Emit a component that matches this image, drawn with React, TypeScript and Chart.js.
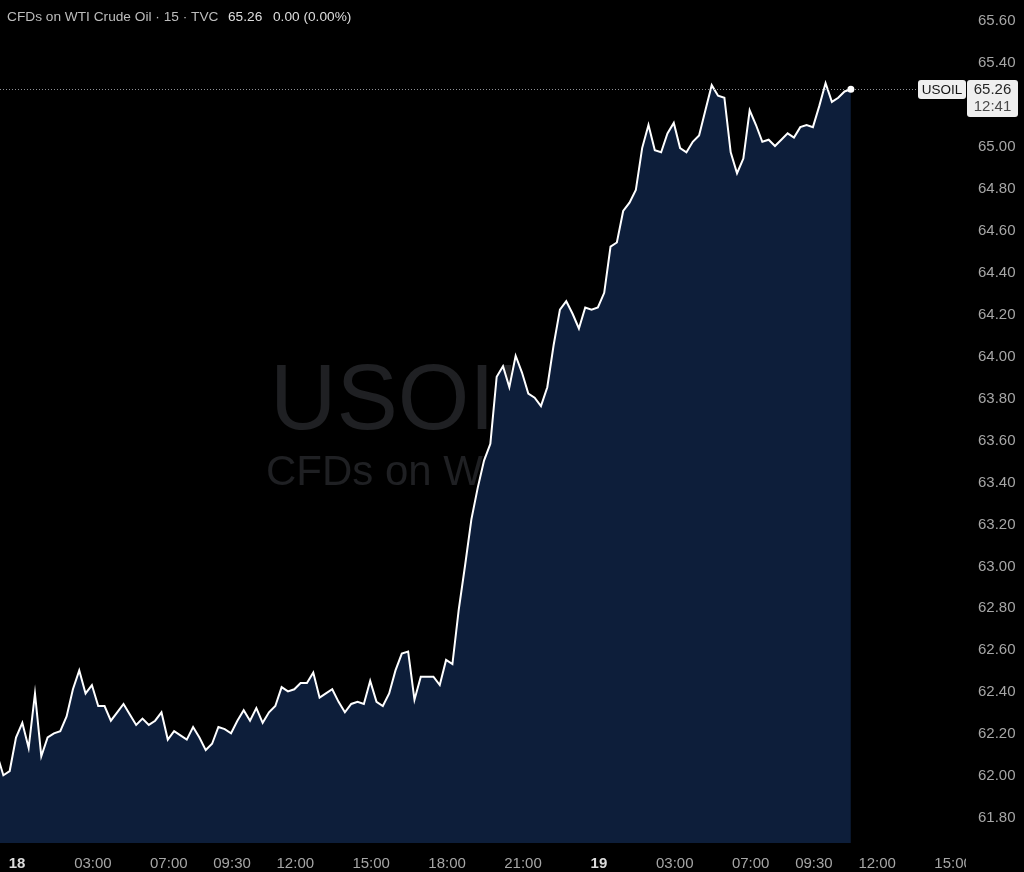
import React, { useEffect, useRef } from "react";
import { Chart, registerables } from "chart.js";

Chart.register(...registerables);

const SYMBOL = "USOIL";
const WATERMARK_SUB = "CFDs on WTI Crude Oil";
const TITLE = "CFDs on WTI Crude Oil · 15 · TVC";
const LAST_PRICE_TEXT = "65.26";
const CHANGE_TEXT = "0.00 (0.00%)";
const COUNTDOWN = "12:41";

// 15-minute bars, index 0 = day 18 00:00 (trading-time bar index)
const FIRST_BAR_INDEX = -3;
const CLOSES = [
  62.09, 61.99, 62.01, 62.17, 62.24, 62.12, 62.38, 62.08, 62.17, 62.19,
  62.2, 62.27, 62.4, 62.49, 62.38, 62.42, 62.32, 62.32, 62.25, 62.29,
  62.33, 62.28, 62.23, 62.26, 62.23, 62.25, 62.29, 62.16, 62.2, 62.18,
  62.16, 62.22, 62.17, 62.11, 62.14, 62.22, 62.21, 62.19, 62.25, 62.3,
  62.25, 62.31, 62.24, 62.29, 62.32, 62.41, 62.39, 62.4, 62.43, 62.43,
  62.48, 62.36, 62.38, 62.4, 62.34, 62.29, 62.33, 62.34, 62.33, 62.44,
  62.34, 62.32, 62.38, 62.49, 62.57, 62.58, 62.35, 62.46, 62.46, 62.46,
  62.42, 62.54, 62.52, 62.78, 62.99, 63.21, 63.36, 63.49, 63.57, 63.89,
  63.94, 63.84, 63.99, 63.91, 63.81, 63.79, 63.75, 63.84, 64.04, 64.21,
  64.25, 64.19, 64.12, 64.22, 64.21, 64.22, 64.29, 64.51, 64.53, 64.68,
  64.72, 64.78, 64.98, 65.09, 64.97, 64.96, 65.05, 65.1, 64.98, 64.96,
  65.01, 65.04, 65.16, 65.28, 65.23, 65.22, 64.96, 64.86, 64.93, 65.16,
  65.09, 65.01, 65.02, 64.99, 65.02, 65.05, 65.03, 65.08, 65.09, 65.08,
  65.18, 65.29, 65.2, 65.22, 65.25, 65.26,
];

const X_TICK_BARS = [0, 12, 24, 34, 44, 56, 68, 80, 92, 104, 116, 126, 136, 148];
const X_TICK_LABELS = [
  "18", "03:00", "07:00", "09:30", "12:00", "15:00", "18:00", "21:00",
  "19", "03:00", "07:00", "09:30", "12:00", "15:00",
];
const DAY_LABELS = ["18", "19"];
const Y_TICKS = [
  61.8, 62.0, 62.2, 62.4, 62.6, 62.8, 63.0, 63.2, 63.4, 63.6,
  63.8, 64.0, 64.2, 64.4, 64.6, 64.8, 65.0, 65.2, 65.4, 65.6,
];

const X_MIN = -2.53;
const X_MAX = 149.57;
const Y_MIN = 61.667;
const Y_MAX = 65.686;

const FONT = '"Liberation Sans", Arial, sans-serif';

function labelFor(value: number): string {
  const i = X_TICK_BARS.indexOf(Math.round(value));
  return i >= 0 ? X_TICK_LABELS[i] : "";
}

function noPadding(scale: any) {
  scale.paddingTop = 0;
  scale.paddingBottom = 0;
  scale.paddingLeft = 0;
  scale.paddingRight = 0;
}

export default function App() {
  const ref = useRef<HTMLCanvasElement | null>(null);

  useEffect(() => {
    const canvas = ref.current;
    if (!canvas) return;
    const lastIdx = CLOSES.length - 1;
    const points = CLOSES.map((v, i) => ({ x: FIRST_BAR_INDEX + i, y: v }));

    const overlay = {
      id: "overlay",
      beforeDatasetsDraw(chart: any) {
        const ctx = chart.ctx;
        ctx.save();
        ctx.fillStyle = "#1f2023";
        ctx.textAlign = "left";
        ctx.textBaseline = "alphabetic";
        ctx.font = `92px ${FONT}`;
        ctx.fillText(SYMBOL, 270, 429);
        ctx.font = `42px ${FONT}`;
        ctx.fillText(WATERMARK_SUB, 266, 485);
        ctx.restore();
      },
      afterDatasetsDraw(chart: any) {
        const ctx = chart.ctx;
        const y = Math.round(chart.scales.y.getPixelForValue(CLOSES[lastIdx])) + 0.5;
        ctx.save();
        ctx.strokeStyle = "#8f9196";
        ctx.lineWidth = 1;
        ctx.setLineDash([1, 2]);
        ctx.beginPath();
        ctx.moveTo(0, y);
        ctx.lineTo(916, y);
        ctx.stroke();
        ctx.setLineDash([]);
        const px = chart.scales.x.getPixelForValue(FIRST_BAR_INDEX + lastIdx);
        const py = chart.scales.y.getPixelForValue(CLOSES[lastIdx]);
        ctx.fillStyle = "#ffffff";
        ctx.beginPath();
        ctx.arc(px, py, 3.5, 0, Math.PI * 2);
        ctx.fill();
        ctx.restore();
      },
      afterDraw(chart: any) {
        const ctx = chart.ctx;
        ctx.save();
        ctx.fillStyle = "#000000";
        ctx.fillRect(966, chart.chartArea.bottom + 1, 60, 40);

        ctx.textAlign = "left";
        ctx.textBaseline = "middle";
        ctx.font = `13.7px ${FONT}`;
        ctx.fillStyle = "#bdbdbd";
        ctx.fillText(TITLE, 7, 17);
        ctx.fillStyle = "#dedede";
        ctx.fillText(LAST_PRICE_TEXT, 228, 17);
        ctx.fillText(CHANGE_TEXT, 273, 17);

        const y = chart.scales.y.getPixelForValue(CLOSES[lastIdx]);
        const top = Math.round(y) - 9;
        ctx.fillStyle = "#efefef";
        ctx.beginPath();
        (ctx as any).roundRect(918, top, 48, 19, 3);
        ctx.fill();
        ctx.beginPath();
        (ctx as any).roundRect(967, top, 51, 37, 3);
        ctx.fill();
        ctx.fillStyle = "#141414";
        ctx.font = `13.5px ${FONT}`;
        ctx.textAlign = "center";
        ctx.fillText(SYMBOL, 942, top + 10);
        ctx.font = `15px ${FONT}`;
        ctx.fillStyle = "#262626";
        ctx.fillText(LAST_PRICE_TEXT, 992.5, top + 10);
        ctx.fillStyle = "#4a4a4a";
        ctx.fillText(COUNTDOWN, 992.5, top + 27);
        ctx.restore();
      },
    };

    const chart = new Chart(canvas, {
      type: "line",
      data: {
        datasets: [
          {
            data: points,
            borderColor: "#ffffff",
            borderWidth: 2,
            backgroundColor: "#0d1e3a",
            fill: "start",
            tension: 0,
            pointRadius: 0,
            pointHoverRadius: 0,
          },
        ],
      },
      options: {
        responsive: false,
        maintainAspectRatio: false,
        animation: false,
        devicePixelRatio: 1,
        layout: { padding: 0 },
        plugins: {
          legend: { display: false },
          tooltip: { enabled: false },
          title: { display: false },
        },
        scales: {
          x: {
            type: "linear",
            position: "bottom",
            min: X_MIN,
            max: X_MAX,
            grid: { display: false, drawTicks: false },
            border: { display: false },
            afterBuildTicks: (scale: any) => {
              scale.ticks = X_TICK_BARS.map((v) => ({ value: v }));
            },
            afterFit: (scale: any) => {
              scale.height = 29;
              noPadding(scale);
            },
            ticks: {
              autoSkip: false,
              maxRotation: 0,
              padding: 12,
              labelOffset: 1,
              callback: (v: any) => labelFor(Number(v)),
              color: (c: any) =>
                DAY_LABELS.includes(labelFor(c.tick ? c.tick.value : NaN)) ? "#dcdcdc" : "#a6a6a6",
              font: (c: any) => ({
                family: FONT,
                size: 15,
                weight: DAY_LABELS.includes(labelFor(c.tick ? c.tick.value : NaN)) ? "bold" : "normal",
              }),
            },
          },
          y: {
            type: "linear",
            position: "right",
            min: Y_MIN,
            max: Y_MAX,
            grid: { display: false, drawTicks: false },
            border: { display: false },
            afterBuildTicks: (scale: any) => {
              scale.ticks = Y_TICKS.map((v) => ({ value: v }));
            },
            afterFit: (scale: any) => {
              scale.width = 62;
              noPadding(scale);
            },
            ticks: {
              padding: 16,
              labelOffset: 3,
              color: "#a6a6a6",
              font: { family: FONT, size: 15 },
              callback: (v: any) => Number(v).toFixed(2),
            },
          },
        },
      },
      plugins: [overlay],
    } as any);

    return () => chart.destroy();
  }, []);

  return (
    <div
      style={{
        position: "fixed",
        left: 0,
        top: 0,
        width: 1024,
        height: 872,
        background: "#000000",
      }}
    >
      <canvas ref={ref} width={1024} height={872} style={{ display: "block" }} />
    </div>
  );
}
